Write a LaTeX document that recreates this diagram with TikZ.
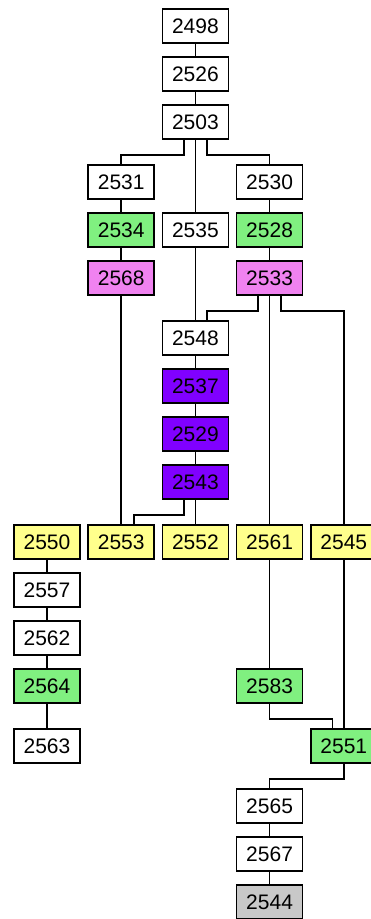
\documentclass[tikz,border=0pt]{standalone}
\usepackage{fontspec}
\setmainfont{Liberation Sans}
\usepackage{tikz}
\usetikzlibrary{positioning}

\definecolor{gnfill}{RGB}{128,240,128}
\definecolor{pkfill}{RGB}{240,130,240}
\definecolor{pufill}{RGB}{128,0,255}
\definecolor{yefill}{RGB}{255,255,140}
\definecolor{gyfill}{RGB}{200,200,200}

\begin{document}
\begin{tikzpicture}[x=1pt, y=1pt, line width=1.5pt,
  font=\fontsize{21}{24}\selectfont,
  bx/.style={draw, minimum width=66pt, minimum height=34pt, inner sep=0pt,
             outer sep=0pt},
  wh/.style={bx, fill=white}, gn/.style={bx, fill=gnfill},
  pk/.style={bx, fill=pkfill}, pu/.style={bx, fill=pufill},
  ye/.style={bx, fill=yefill}, gy/.style={bx, fill=gyfill}]
  \useasboundingbox (0,0) rectangle (370,-919);
  \fill[white] (0,0) rectangle (370,-919);
  % top chain
  \node[wh] (n2498) at (195.4,-26) {2498};
  \node[wh, below=14pt of n2498] (n2526) {2526};
  \node[wh, below=14pt of n2526] (n2503) {2503};
  \node[wh, below left=26pt and 8.2pt of n2503] (n2531) {2531};
  \node[wh, below right=26pt and 8.2pt of n2503] (n2530) {2530};
  \node[gn, below=14pt of n2531] (n2534) {2534};
  \node[wh, right=8.2pt of n2534] (n2535) {2535};
  \node[gn, right=8.2pt of n2535] (n2528) {2528};
  \node[pk, below=14pt of n2534] (n2568) {2568};
  \node[pk, below=14pt of n2528] (n2533) {2533};
  % middle chain
  \node[wh, below right=26pt and 8.2pt of n2568] (n2548) {2548};
  \node[pu, below=14pt of n2548] (n2537) {2537};
  \node[pu, below=14pt of n2537] (n2529) {2529};
  \node[pu, below=14pt of n2529] (n2543) {2543};
  % yellow row
  \node[ye, below=26pt of n2543] (n2552) {2552};
  \node[ye, left=8.2pt of n2552] (n2553) {2553};
  \node[ye, left=8.2pt of n2553] (n2550) {2550};
  \node[ye, right=8.2pt of n2552] (n2561) {2561};
  \node[ye, right=8.2pt of n2561] (n2545) {2545};
  % lower part
  \node[wh, below=14pt of n2550] (n2557) {2557};
  \node[wh, below=14pt of n2557] (n2562) {2562};
  \node[gn, below=14pt of n2562] (n2564) {2564};
  \node[wh, below=26pt of n2564] (n2563) {2563};
  \node[gn, below=110pt of n2561] (n2583) {2583};
  \node[gn, below right=26pt and 8.2pt of n2583] (n2551) {2551};
  \node[wh, below left=26pt and 8.2pt of n2551] (n2565) {2565};
  \node[wh, below=14pt of n2565] (n2567) {2567};
  \node[gy, below=14pt of n2567] (n2544) {2544};
  % straight links
  \foreach \a/\b in {2498/2526, 2526/2503, 2503/2535, 2531/2534, 2534/2568,
                     2568/2553, 2535/2548, 2530/2528, 2528/2533, 2533/2561,
                     2548/2537, 2537/2529, 2529/2543, 2543/2552, 2550/2557,
                     2557/2562, 2562/2564, 2564/2563, 2561/2583, 2545/2551,
                     2565/2567, 2567/2544}
    \draw (n\a.south) -- (n\b.north);
  % elbow links
  \draw ([xshift=-11.5pt]n2503.south) -- ++(0,-16) -| (n2531.north);
  \draw ([xshift=11.5pt]n2503.south) -- ++(0,-16) -| (n2530.north);
  \draw ([xshift=-11.5pt]n2533.south) -- ++(0,-16) -| ([xshift=11.5pt]n2548.north);
  \draw ([xshift=11.5pt]n2533.south) -- ++(0,-16) -| (n2545.north);
  \draw ([xshift=-11.5pt]n2543.south) -- ++(0,-16) -| ([xshift=13pt]n2553.north);
  \draw (n2583.south) -- ++(0,-16) -| ([xshift=-11.5pt]n2551.north);
  \draw (n2551.south) -- ++(0,-16) -| (n2565.north);
\end{tikzpicture}
\end{document}
